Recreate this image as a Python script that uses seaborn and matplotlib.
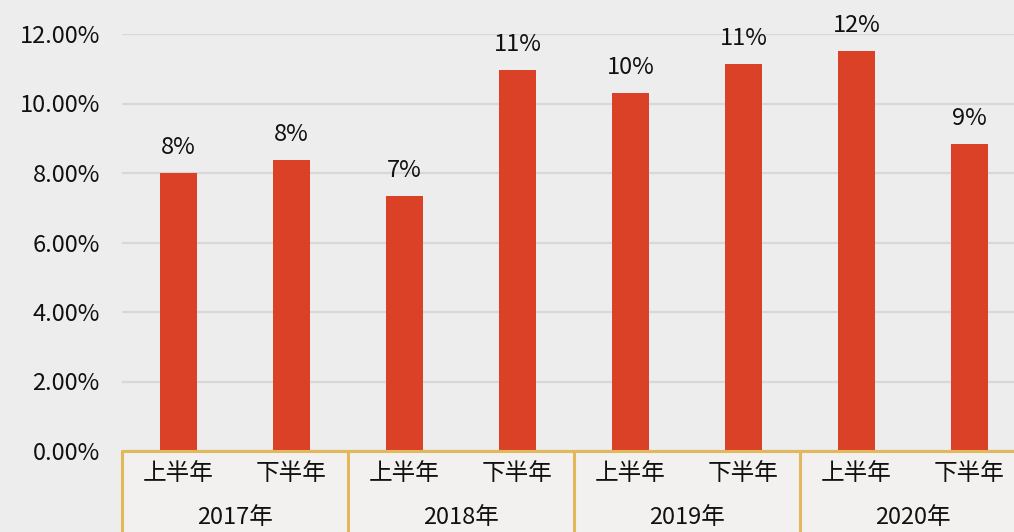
import matplotlib
matplotlib.use("Agg")
import matplotlib.pyplot as plt
import seaborn as sns
import pandas as pd
from matplotlib.ticker import FuncFormatter
from matplotlib.patches import Rectangle

# chart data
years = ["2017年", "2018年", "2019年", "2020年"]
halves = ["上半年", "下半年"]
growth = [8.00, 8.37, 7.34, 10.96, 10.30, 11.14, 11.51, 8.83]
value_labels = ["8%", "8%", "7%", "11%", "10%", "11%", "12%", "9%"]

keys = [y + h for y in years for h in halves]
df = pd.DataFrame({"key": keys, "growth": growth})

sns.set_style("white")
plt.rcParams["font.family"] = ["Noto Sans CJK SC", "DejaVu Sans"]

bg = "#EDEDED"
red = "#DA4127"
gold = "#E2B85A"

fig = plt.figure(figsize=(10.14, 5.32), dpi=100, facecolor=bg)
# slightly lighter band behind the category axis
fig.patches.append(Rectangle((122 / 1014, 0), 1, 81 / 532, transform=fig.transFigure,
                             facecolor="#F2F1F0", edgecolor="none", zorder=-5))
ax = fig.add_axes([122 / 1014, 81 / 532, 904 / 1014, 417 / 532])
ax.set_facecolor(bg)

sns.barplot(data=df, x="key", y="growth", order=keys, color=red,
            width=0.32, saturation=1, linewidth=0, ax=ax, zorder=3)

ax.set_xlim(-0.5, len(keys) - 0.5)
ax.set_ylim(0, 12)
ax.set_yticks([0, 2, 4, 6, 8, 10, 12])
ax.yaxis.set_major_formatter(FuncFormatter(lambda v, p: f"{v:.2f}%"))
ax.tick_params(axis="y", length=0, pad=16, labelsize=17, labelcolor="#111111")
ax.set_xticks([])
ax.set_xlabel("")
ax.set_ylabel("")
ax.grid(axis="y", color="#D8D8D8", linewidth=1.6, zorder=0)
for s in ax.spines.values():
    s.set_visible(False)

# value labels above bars
for i, (v, lab) in enumerate(zip(growth, value_labels)):
    ax.annotate(lab, (i, v), xytext=(0, 10), textcoords="offset points",
                ha="center", va="bottom", fontsize=17, color="#111111",
                annotation_clip=False)

# two-level category axis
trans = ax.get_xaxis_transform()
ax.plot([-0.5, len(keys) - 0.5], [0, 0], color=gold, lw=2.2,
        transform=trans, clip_on=False, zorder=4)
for g in range(len(years) + 1):
    xg = g * 2 - 0.5
    ax.plot([xg, xg], [0, -0.2], color=gold, lw=2.2,
            transform=trans, clip_on=False, zorder=4)
for i, k in enumerate(keys):
    ax.text(i, -0.053, halves[i % 2], transform=trans, ha="center",
            va="center", fontsize=17, color="#111111")
for g, y in enumerate(years):
    ax.text(g * 2 + 0.5, -0.16, y, transform=trans, ha="center",
            va="center", fontsize=17, color="#111111")

fig.savefig("out.png", dpi=100, facecolor=bg)
